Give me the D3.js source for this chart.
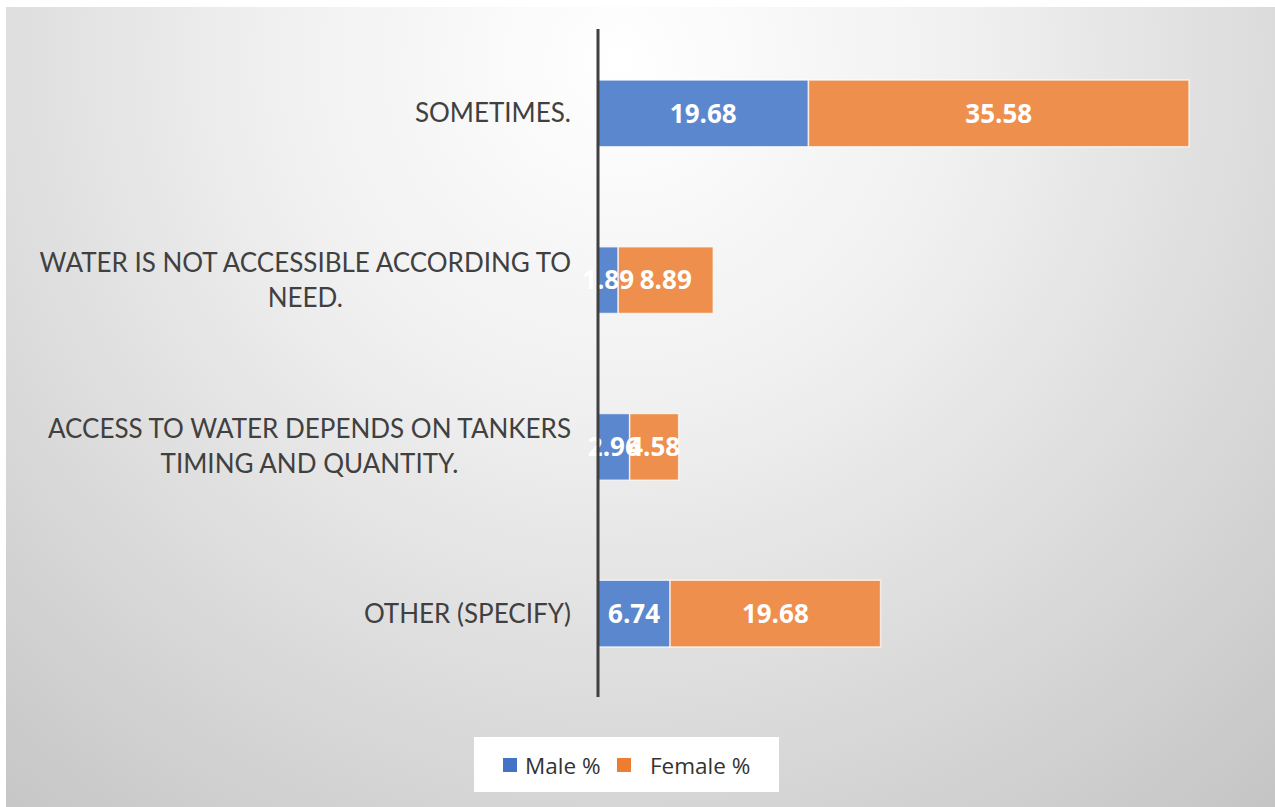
<!DOCTYPE html>
<html><head><meta charset="utf-8">
<script src="https://cdn.jsdelivr.net/npm/d3@7"></script>
<style>body{margin:0;background:#fff;}svg{display:block;}</style>
</head><body>
<svg id="chart" width="1275" height="807"></svg>
<script>
const categories = [
  ["SOMETIMES."],
  ["WATER IS NOT ACCESSIBLE ACCORDING TO", "NEED."],
  ["ACCESS TO WATER DEPENDS ON TANKERS", "TIMING AND QUANTITY."],
  ["OTHER (SPECIFY)"]
];
const categoryKeys = ["Sometimes", "Not accessible", "Tankers", "Other"];
const maleValues = [19.68, 1.89, 2.96, 6.74];
const femaleValues = [35.58, 8.89, 4.58, 19.68];
const seriesNames = ["Male %", "Female %"];

const svg = d3.select("#chart");
const defs = svg.append("defs");
const grad = defs.append("radialGradient").attr("id","bg")
  .attr("gradientUnits","userSpaceOnUse")
  .attr("cx",620).attr("cy",60).attr("r",1000);
grad.append("stop").attr("offset","0").attr("stop-color","#ffffff");
grad.append("stop").attr("offset","0.35").attr("stop-color","#f0f0f0");
grad.append("stop").attr("offset","1").attr("stop-color","#c4c4c4");

svg.append("rect").attr("x",0).attr("y",0).attr("width",1275).attr("height",807).attr("fill","#fff");
svg.append("rect").attr("x",6).attr("y",7).attr("width",1269).attr("height",800).attr("fill","url(#bg)");

const x = d3.scaleLinear().domain([0, 55.26]).range([598, 1189]);
const y = d3.scaleBand().domain(categoryKeys).range([30, 697]).paddingInner(0.6).paddingOuter(0.3);

const data = categoryKeys.map((k,i)=>({key:k, male:maleValues[i], female:femaleValues[i], label:categories[i]}));
const stack = d3.stack().keys(["male","female"])(data);
const colors = {male:"#5b87cf", female:"#ee8f4d"};

const g = svg.append("g");
stack.forEach(layer=>{
  g.selectAll(null).data(layer).join("rect")
    .attr("x", d=>x(d[0]))
    .attr("y", d=>y(d.data.key))
    .attr("width", d=>x(d[1])-x(d[0]))
    .attr("height", y.bandwidth())
    .attr("fill", colors[layer.key])
    .attr("stroke","#ffffff").attr("stroke-opacity",0.7).attr("stroke-width",1.5);
});

// axis line
svg.append("line").attr("x1",598).attr("x2",598).attr("y1",29).attr("y2",697)
  .attr("stroke","#404040").attr("stroke-width",3);

// data labels
stack.forEach(layer=>{
  g.selectAll(null).data(layer).join("text")
    .attr("x", d=>(x(d[0])+x(d[1]))/2)
    .attr("y", d=>y(d.data.key)+y.bandwidth()/2)
    .attr("dy","0.36em")
    .attr("text-anchor","middle")
    .attr("font-family","'Open Sans', sans-serif")
    .attr("font-weight","bold")
    .attr("font-size",26)
    .attr("fill","#fff")
    .text(d=>d.data[layer.key].toFixed(2));
});

// category labels
const lineH = 35;
data.forEach(d=>{
  const n = d.label.length;
  const cy = y(d.key)+y.bandwidth()/2;
  const tg = svg.append("g");
  const texts = d.label.map((s,i)=> tg.append("text")
    .attr("y", cy + (i-(n-1)/2)*lineH)
    .attr("dy","0.35em")
    .attr("text-anchor","middle")
    .attr("font-family","Lato, sans-serif")
    .attr("font-size",26)
    .attr("fill","#404040")
    .text(s));
  const maxW = d3.max(texts, t=>t.node().getComputedTextLength());
  texts.forEach(t=>t.attr("x", 571 - maxW/2));
});

// legend
const lg = svg.append("g");
lg.append("rect").attr("x",474).attr("y",737).attr("width",305).attr("height",55).attr("fill","#fff");
const legendColors = ["#4472c4","#ed7d31"];
const legendX = [503, 617];
seriesNames.forEach((s,i)=>{
  lg.append("rect").attr("x",legendX[i]).attr("y",758).attr("width",14).attr("height",14).attr("fill",legendColors[i]);
  lg.append("text").attr("x", legendX[i] + (i===0?22:33)).attr("y",766).attr("dy","0.35em")
    .attr("font-family","'Open Sans', sans-serif").attr("font-size",22.5).attr("fill","#333")
    .text(s);
});
</script>
</body></html>
